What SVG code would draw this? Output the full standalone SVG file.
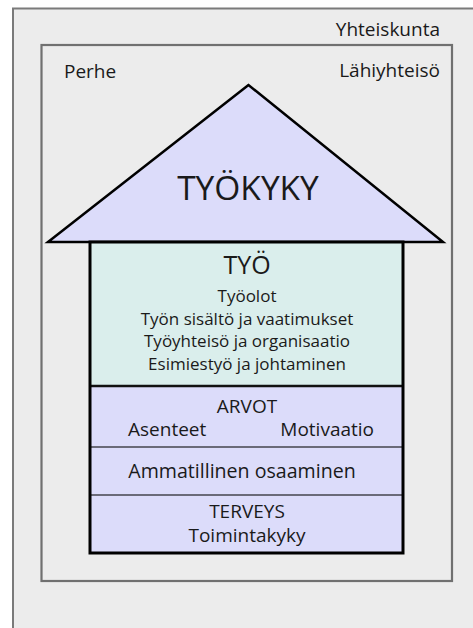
<svg xmlns="http://www.w3.org/2000/svg" width="473" height="628" viewBox="0 0 473 628">
<style>
  text { font-family: "Open Sans", "Liberation Sans", sans-serif; fill: #1a1a1a; }
  .frame { fill: #ececec; stroke: #7a7a7a; stroke-width: 2; }
  .inner { fill: #ececec; stroke: #707070; stroke-width: 2.2; }
  .lav { fill: #dcdcfa; }
  .green { fill: #daeeec; }
  .blk { fill: none; stroke: #000; }
  .sep { stroke: #6a6a78; stroke-width: 1.8; }
  .lbl { font-size: 19px; }
  .mid { text-anchor: middle; }
  .end { text-anchor: end; }
  .s17 { font-size: 17px; }
  .s19 { font-size: 19px; }
</style>
<rect x="0" y="0" width="473" height="628" fill="#ffffff"/>
<g id="yhteiskunta">
  <rect class="frame" x="13" y="8.5" width="470" height="630"/>
  <text class="lbl end" x="440" y="36">Yhteiskunta</text>
</g>
<g id="lahiyhteiso">
  <rect class="inner" x="41.5" y="45" width="410.5" height="536"/>
  <text class="lbl" x="64" y="78">Perhe</text>
  <text class="lbl end" x="440" y="77">Lähiyhteisö</text>
</g>
<g id="connectors"></g>
<g id="tyokyky">
  <polygon class="lav" points="248.5,85 48,242 443,242" stroke="#000" stroke-width="2.5" stroke-linejoin="miter"/>
  <text class="mid" x="248" y="200" font-size="33.5">TYÖKYKY</text>
</g>
<g id="tyo">
  <rect class="green" x="90" y="242" width="313" height="144"/>
  <text class="mid" x="247" y="274" font-size="25">TYÖ</text>
  <text class="mid s17" x="247" y="302">Työolot</text>
  <text class="mid s17" x="247" y="324.5">Työn sisältö ja vaatimukset</text>
  <text class="mid s17" x="247" y="347">Työyhteisö ja organisaatio</text>
  <text class="mid s17" x="247" y="369.5">Esimiestyö ja johtaminen</text>
</g>
<g id="arvot">
  <rect class="lav" x="90" y="386" width="313" height="61"/>
  <text class="mid s19" x="247" y="413">ARVOT</text>
  <text class="s19" x="128" y="436">Asenteet</text>
  <text class="end s19" x="374" y="436">Motivaatio</text>
</g>
<g id="osaaminen">
  <rect class="lav" x="90" y="447" width="313" height="48"/>
  <text class="mid" x="242" y="478" font-size="19.6">Ammatillinen osaaminen</text>
</g>
<g id="terveys">
  <rect class="lav" x="90" y="495" width="313" height="58"/>
  <text class="mid s19" x="247" y="518">TERVEYS</text>
  <text class="mid s19" x="247" y="542">Toimintakyky</text>
</g>
<g id="house-lines">
  <line class="sep" x1="90" y1="447" x2="403" y2="447"/>
  <line class="sep" x1="90" y1="495" x2="403" y2="495"/>
  <line x1="90" y1="386" x2="403" y2="386" stroke="#111" stroke-width="2.5"/>
  <rect class="blk" x="90" y="242" width="313" height="311" stroke-width="3"/>
</g>
</svg>
